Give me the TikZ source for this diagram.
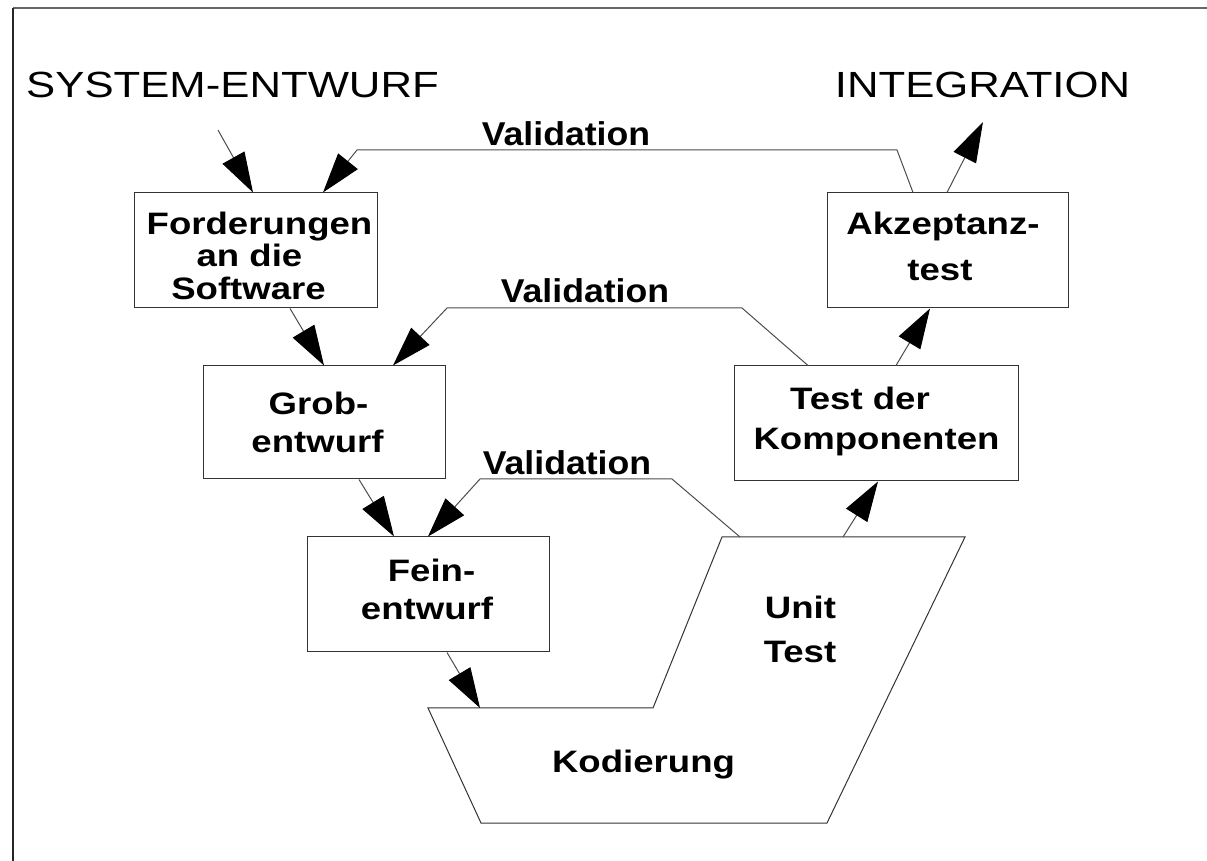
\documentclass[tikz,border=0pt]{standalone}
\usepackage{fontspec}
\usetikzlibrary{arrows.meta}
\newfontfamily\titlefont[FakeStretch=1.2]{Liberation Sans}
\newfontfamily\boxfont[FakeStretch=1.18]{Liberation Sans}
\newfontfamily\valfont[FakeStretch=1.08]{Liberation Sans}
\begin{document}
\begin{tikzpicture}[x=0.5pt,y=-0.5pt,
  box/.style={draw=black!80,line width=0.5pt,inner sep=0pt},
  txt/.style={inner sep=0pt,anchor=base,font=\boxfont\bfseries\fontsize{15.5}{18}\selectfont},
  ttl/.style={inner sep=0pt,anchor=base,font=\titlefont\fontsize{18.2}{22}\selectfont},
  val/.style={inner sep=0pt,anchor=base,font=\valfont\bfseries\fontsize{16.5}{20}\selectfont},
  conn/.style={draw=black!70,line width=0.5pt},
  arr/.style={conn,-{Triangle[length=20pt,width=12.5pt,color=black]}}]
\useasboundingbox (0,0) rectangle (1207,861);
% frame
\draw[black!60,line width=0.6pt] (13,8) -- (1215,8);
\draw[black!85,line width=0.9pt] (13,8) -- (13,870);
% titles
\node[ttl] (sys) at (232.5,98) {SYSTEM-ENTWURF};
\node[ttl] (integ) at (982.5,98) {INTEGRATION};
% boxes
\node[box,minimum width=121.5pt,minimum height=57.5pt] (ford) at (255.5,250.5) {};
\node[box,minimum width=120.5pt,minimum height=57.5pt] (akz) at (947.5,250.5) {};
\node[box,minimum width=121pt,minimum height=56.5pt] (grob) at (324,422.5) {};
\node[box,minimum width=142pt,minimum height=57.5pt] (tdk) at (876,423.5) {};
\node[box,minimum width=121pt,minimum height=57.5pt] (fein) at (428,594.5) {};
% coding / unit test shape
\coordinate (k1) at (428,708);
\coordinate (k2) at (653,708);
\coordinate (k3) at (722,537);
\coordinate (k4) at (965,537);
\coordinate (k5) at (827,823);
\coordinate (k6) at (481,823);
\draw[box] (k1) -- (k2) -- (k3) -- (k4) -- (k5) -- (k6) -- cycle;
% box texts
\node[txt] (ford1) at (259.5,235) {Forderungen};
\node[txt] (ford2) at (249.5,267) {an die};
\node[txt] (ford3) at (248.5,300) {Software};
\node[txt] (akz1) at (943,235) {Akzeptanz-};
\node[txt] (akz2) at (940,281) {test};
\node[txt] (grob1) at (318.5,415) {Grob-};
\node[txt] (grob2) at (317.5,453) {entwurf};
\node[txt] (tdk1) at (860,410) {Test der};
\node[txt] (tdk2) at (876.5,450) {Komponenten};
\node[txt] (fein1) at (431.5,582) {Fein-};
\node[txt] (fein2) at (427,620) {entwurf};
\node[txt] (unit1) at (800.5,618) {Unit};
\node[txt] (unit2) at (800,663) {Test};
\node[txt] (kod) at (643.5,772) {Kodierung};
% validation labels
\node[val] (val1) at (566,146) {Validation};
\node[val] (val2) at (585,303) {Validation};
\node[val] (val3) at (567,475) {Validation};
% free ends / bends
\coordinate (sysin) at (218,130);
\coordinate (intout) at (983,122);
\coordinate (v1a) at (897,150);
\coordinate (v1b) at (357,150);
\coordinate (v2a) at (742,308);
\coordinate (v2b) at (447,308);
\coordinate (v3a) at (672,479);
\coordinate (v3b) at (480,479);
% arrows
\draw[arr] (sysin) -- (253,0 |- ford.north);
\draw[arr] (913,0 |- akz.north) -- (v1a) -- (v1b) -- (323,0 |- ford.north);
\draw[arr] (947,0 |- akz.north) -- (intout);
\draw[arr] (290,0 |- ford.south) -- (324,0 |- grob.north);
\draw[arr] (808,0 |- tdk.north) -- (v2a) -- (v2b) -- (393,0 |- grob.north);
\draw[arr] (896,0 |- tdk.north) -- (930,0 |- akz.south);
\draw[arr] (359,0 |- grob.south) -- (394,0 |- fein.north);
\draw[arr] (740,0 |- k3) -- (v3a) -- (v3b) -- (428,0 |- fein.north);
\draw[arr] (843,0 |- k3) -- (878,0 |- tdk.south);
\draw[arr] (447,0 |- fein.south) -- (480,0 |- k1);
\end{tikzpicture}
\end{document}
